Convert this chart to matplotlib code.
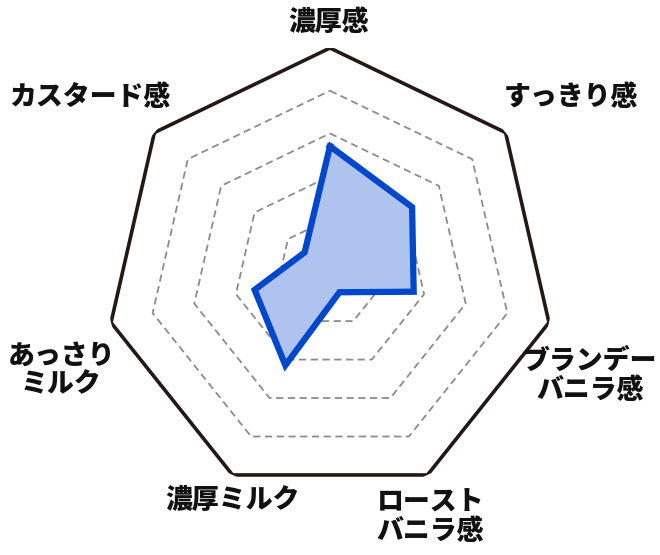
import numpy as np
import matplotlib
matplotlib.use('Agg')
from matplotlib import pyplot as plt

plt.rcParams['font.family'] = ['Noto Sans CJK JP', 'DejaVu Sans']

# axes, clockwise from the top
categories = ['濃厚感', 'すっきり感', 'ブランデー\nバニラ感', 'ロースト\nバニラ感',
              '濃厚ミルク', 'あっさり\nミルク', 'カスタード感']
values = [2.7, 2.2, 1.75, 0.25, 2.15, 1.55, 0.5]
levels = [1, 2, 3, 4]
vmax = 5

# label centres in axes fraction
label_pos = [(0.498, 1.058), (1.037, 0.891), (1.079, 0.272), (0.723, -0.042),
             (0.282, -0.006), (-0.098, 0.283), (-0.034, 0.891)]

n = len(categories)
theta = np.arange(n) * 2 * np.pi / n
theta_c = np.append(theta, theta[0])

fig = plt.figure(figsize=(6.6, 5.55), dpi=100)
ax = fig.add_axes([0.1597, 0.1041, 0.6806, 0.8094], projection='polar')
ax.set_theta_zero_location('N')
ax.set_theta_direction(-1)
ax.set_ylim(-0.26, vmax)
ax.grid(False)
ax.spines['polar'].set_visible(False)
ax.set_xticks([])
ax.set_yticks([])
ax.patch.set_alpha(0)

for lv in levels:
    ax.plot(theta_c, [lv] * (n + 1), color='#8c8c8c', lw=1.3,
            ls=(0, (4, 2.5)), zorder=1)
ax.plot(theta_c, [vmax] * (n + 1), color='#231815', lw=2.6, zorder=2,
        solid_joinstyle='miter')

vals = np.append(values, values[0])
ax.fill(theta_c, vals, color='#aec4ee', zorder=3)
ax.plot(theta_c, vals, color='#0047cc', lw=4.5, zorder=4, solid_joinstyle='miter')

for name, (x, y) in zip(categories, label_pos):
    ax.text(x, y, name, transform=ax.transAxes, ha='center', va='center',
            fontsize=19.4, fontweight='black', linespacing=1.0, color='#111111')

fig.savefig('out.png', dpi=100)
